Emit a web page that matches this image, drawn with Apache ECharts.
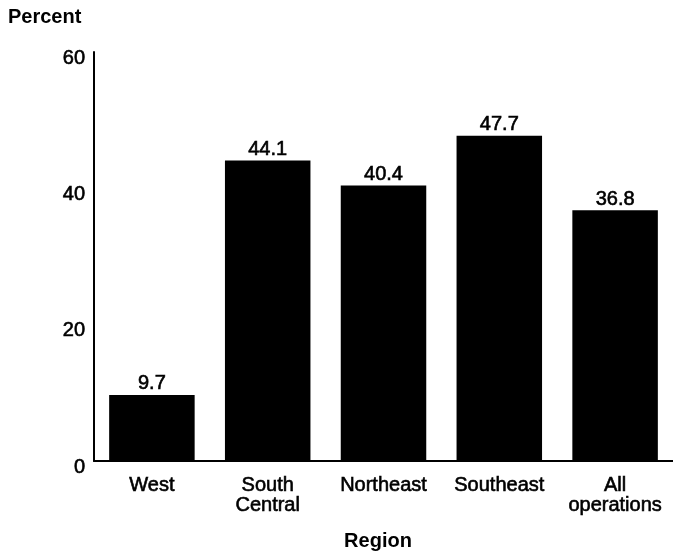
<!DOCTYPE html>
<html>
<head>
<meta charset="utf-8">
<script src="https://cdn.jsdelivr.net/npm/echarts@6/dist/echarts.min.js"></script>
<style>
  html, body { margin: 0; padding: 0; background: #fff; }
  #chart { width: 673px; height: 556px; }
</style>
</head>
<body>
<div id="chart"></div>
<script>
// Share of operations by region (percent)
const regions = ['West', 'South\nCentral', 'Northeast', 'Southeast', 'All\noperations'];
const percentValues = [9.7, 44.1, 40.4, 47.7, 36.8];
const yTicks = { min: 0, max: 60, interval: 20 };

const FONT = '"Liberation Sans", Arial, Helvetica, sans-serif';
// a thin outline in the text colour gives the heavier print-style strokes
const heavy = { textBorderColor: '#000', textBorderWidth: 0.6 };

const chart = echarts.init(document.getElementById('chart'), null, { renderer: 'canvas' });

chart.setOption({
  animation: false,
  backgroundColor: '#ffffff',
  title: {
    text: 'Percent',
    left: 3,
    top: 2,
    textStyle: { fontFamily: FONT, fontSize: 20, fontWeight: 'bold', color: '#000' }
  },
  grid: { left: 94, top: 52, width: 583.5, bottom: 89, containLabel: false },
  xAxis: {
    type: 'category',
    data: regions,
    boundaryGap: true,
    name: 'Region',
    nameLocation: 'middle',
    nameGap: 70,
    nameTextStyle: {
      fontFamily: FONT, fontSize: 20, fontWeight: 'bold', color: '#000',
      padding: [0, 11, 0, 0]
    },
    axisLine: { show: true, lineStyle: { color: '#000', width: 2 } },
    axisTick: { show: false },
    axisLabel: Object.assign({
      interval: 0,
      margin: 14,
      fontFamily: FONT,
      fontSize: 20,
      lineHeight: 20,
      color: '#000'
    }, heavy),
    splitLine: { show: false }
  },
  yAxis: {
    type: 'value',
    min: yTicks.min,
    max: yTicks.max,
    interval: yTicks.interval,
    axisLine: { show: true, lineStyle: { color: '#000', width: 2 } },
    axisTick: { show: false },
    axisLabel: Object.assign({
      margin: 9,
      fontFamily: FONT,
      fontSize: 20,
      color: '#000',
      verticalAlign: 'top',
      lineHeight: 12
    }, heavy),
    splitLine: { show: false }
  },
  series: [{
    type: 'bar',
    data: percentValues,
    barWidth: 85.5,
    itemStyle: { color: '#000' },
    label: Object.assign({
      show: true,
      position: 'top',
      distance: 1,
      fontFamily: FONT,
      fontSize: 20,
      color: '#000',
      formatter: p => p.value.toFixed(1)
    }, heavy)
  }]
});
</script>
</body>
</html>
